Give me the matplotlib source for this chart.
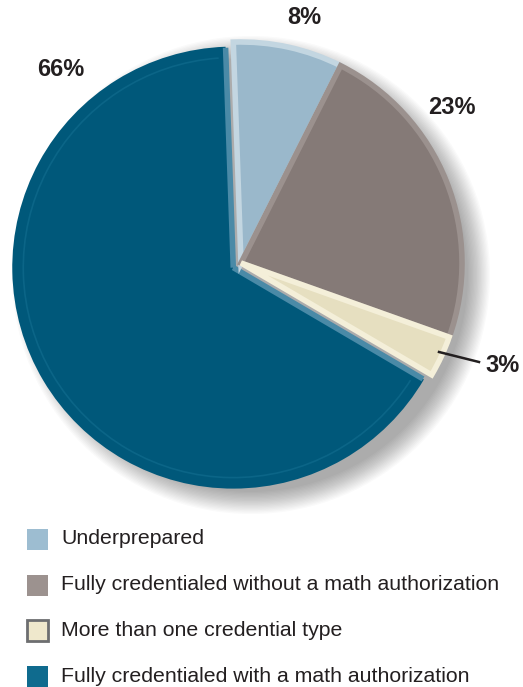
import matplotlib
matplotlib.use("Agg")
import matplotlib.pyplot as plt
from matplotlib.patches import Rectangle, Circle, Arc
import numpy as np

plt.rcParams['font.family'] = ['Liberation Sans', 'DejaVu Sans']

# ---- data ----
categories = ["Underprepared",
              "Fully credentialed without a math authorization",
              "More than one credential type",
              "Fully credentialed with a math authorization"]
values = [8, 23, 3, 66]
pie_colors = ["#9ab8cb", "#857a77", "#e6dfc0", "#00587a"]
bevel_colors = ["#c3d6e1", "#9b918e", "#f4efd9", "#00587a"]
legend_colors = ["#9dbdd1", "#9c928f", "#efe8cc", "#0f6b8e"]
legend_edges = ["none", "none", "#6d6e70", "none"]

W, H = 523, 687
fig = plt.figure(figsize=(W / 100, H / 100), dpi=100)
ax = fig.add_axes([0, 0, 1, 1])

cx, cy, R = 241, H - 263, 221
explode = [0, 0, 0, 9]

# soft shadow (down-right)
for i in range(18):
    ax.add_patch(Circle((cx + 10, cy - 12), R - 4 + i * 1.3, color="#000000",
                        alpha=0.02, lw=0, zorder=0))

wedges, _ = ax.pie(values, colors=pie_colors, startangle=92, counterclock=False,
                   center=(cx, cy), radius=R, explode=explode,
                   wedgeprops=dict(linewidth=4, joinstyle="miter"))
for w, ec in zip(wedges, bevel_colors):
    w.set_edgecolor(ec)
    w.set_zorder(2)
blue = wedges[3]
blue.set_zorder(1)
blue.set_linewidth(0)

# light rim along the radial edges of the big slice, subtle inner arc
bx, by = blue.center
for ang in (blue.theta1, blue.theta2):
    t = np.deg2rad(ang)
    ax.plot([bx, bx + (R - 1) * np.cos(t)], [by, by + (R - 1) * np.sin(t)],
            color="#4a8aa7", lw=4, solid_capstyle="butt", zorder=1.5)
ax.add_patch(Arc((bx, by), 2 * (R - 11), 2 * (R - 11), theta1=blue.theta1 + 2,
                 theta2=blue.theta2 - 2, color="#0b6587", lw=1.2, zorder=1.5))

ax.set_xlim(0, W)
ax.set_ylim(0, H)
ax.set_aspect("equal")
ax.axis("off")

# percentage labels
label_pos = [(304, 18), (452, 107), (503, 365), (61, 70)]
for v, (px, py) in zip(values, label_pos):
    ax.text(px, H - py, f"{v}%", fontsize=17, fontweight="bold",
            color="#231f20", ha="center", va="center", zorder=5)
# leader line for the 3% label
ax.plot([439, 479], [H - 352, H - 362], color="#231f20", lw=1.8, zorder=5)

# legend
leg_y = [539, 585, 630, 676]
for lab, fc, ec, yy in zip(categories, legend_colors, legend_edges, leg_y):
    ax.add_patch(Rectangle((27, H - yy - 10.5), 21, 21, facecolor=fc,
                           edgecolor=ec, lw=2 if ec != "none" else 0, zorder=5))
    ax.text(61, H - yy, lab, fontsize=15.3, color="#231f20",
            ha="left", va="center", zorder=5)

fig.savefig("out.png", dpi=100)
